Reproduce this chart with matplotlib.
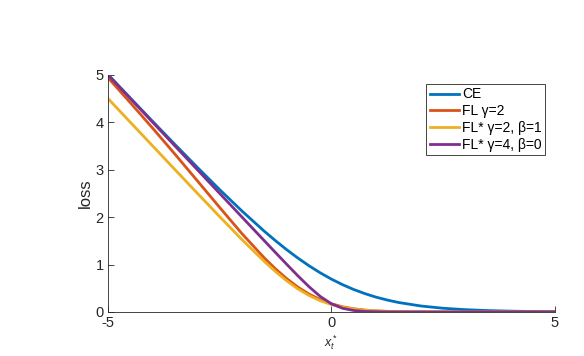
import matplotlib
matplotlib.use('Agg')
import matplotlib.pyplot as plt

plt.rcParams['font.family'] = ['Liberation Sans', 'DejaVu Sans']
plt.rcParams['mathtext.fontset'] = 'custom'
plt.rcParams['mathtext.rm'] = 'Liberation Sans'
plt.rcParams['mathtext.it'] = 'Liberation Sans:italic'

# x_t values
x = [-5, -4.5, -4, -3.5, -3, -2.5, -2, -1.5, -1.25, -1, -0.75, -0.5, -0.25,
     0, 0.25, 0.5, 0.75, 1, 1.25, 1.5, 2, 2.5, 3, 3.5, 4, 4.5, 5]

ce = [5.007, 4.511, 4.018, 3.530, 3.049, 2.579, 2.127, 1.701, 1.502, 1.313,
      1.137, 0.974, 0.826, 0.693, 0.576, 0.474, 0.387, 0.313, 0.252, 0.201,
      0.127, 0.079, 0.049, 0.030, 0.018, 0.011, 0.007]
fl_g2 = [4.940, 4.412, 3.875, 3.326, 2.766, 2.203, 1.650, 1.137, 0.908, 0.702,
         0.524, 0.377, 0.261, 0.173, 0.110, 0.068, 0.040, 0.023, 0.012, 0.007,
         0.002, 0.0005, 0.0001, 0.0, 0.0, 0.0, 0.0]
fls_g2_b1 = [4.500, 4.000, 3.501, 3.001, 2.503, 2.009, 1.524, 1.064, 0.851,
             0.657, 0.487, 0.347, 0.237, 0.157, 0.101, 0.064, 0.039, 0.024,
             0.015, 0.009, 0.003, 0.001, 0.0005, 0.0002, 0.0001, 0.0, 0.0]
fls_g4_b0 = [5.000, 4.500, 4.000, 3.500, 3.000, 2.500, 2.000, 1.501, 1.252,
             1.005, 0.762, 0.532, 0.328, 0.173, 0.078, 0.032, 0.012, 0.005,
             0.002, 0.0006, 0.0001, 0.0, 0.0, 0.0, 0.0, 0.0, 0.0]

series = [
    (ce, 'CE', '#0072BD'),
    (fl_g2, 'FL γ=2', '#D95319'),
    (fls_g2_b1, 'FL* γ=2, β=1', '#EDB120'),
    (fls_g4_b0, 'FL* γ=4, β=0', '#7E2F8E'),
]

fig = plt.figure(figsize=(5.84, 3.56), dpi=100)
ax = fig.add_axes([0.185, 0.1236, 0.765, 0.666])

for ys, lab, col in series:
    ax.plot(x, ys, color=col, lw=2, label=lab)

ax.set_xlim(-5, 5)
ax.set_ylim(0, 5)
ax.set_xticks([-5, 0, 5])
ax.set_xticklabels(['-5', '0', '5'])
ax.set_yticks([0, 1, 2, 3, 4, 5])
ax.spines['top'].set_visible(False)
ax.spines['right'].set_visible(False)
for s in ['left', 'bottom']:
    ax.spines[s].set_color('#262626')
    ax.spines[s].set_linewidth(0.6)
ax.tick_params(direction='in', length=4, width=0.6, labelsize=10.5,
               colors='#262626', pad=3)
ax.set_ylabel('loss', fontsize=12, color='#262626', labelpad=2)
ax.set_xlabel(r'$x_t^*$', fontsize=9, color='#262626', labelpad=2)

leg = ax.legend(loc='upper right', bbox_to_anchor=(0.978, 0.962), fontsize=10,
                handlelength=2.1, handletextpad=0.2, labelspacing=0.2,
                borderpad=0.25, borderaxespad=0.0, fancybox=False, framealpha=1)
leg.get_frame().set_edgecolor('#262626')
leg.get_frame().set_linewidth(0.6)

fig.savefig('out.png', dpi=100)
